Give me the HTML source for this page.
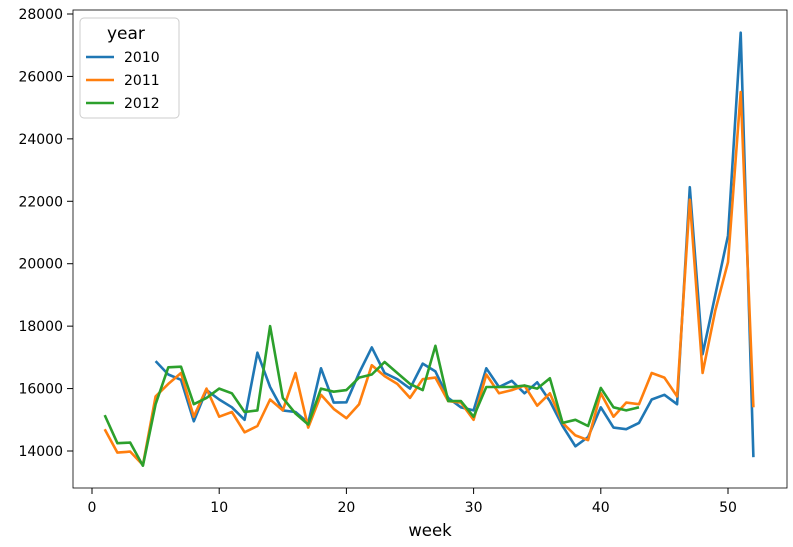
<!DOCTYPE html>
<html><head><meta charset="utf-8"><style>
body{margin:0;background:#fff;}
svg{display:block;font-family:"DejaVu Sans","Liberation Sans",sans-serif;}
</style></head><body>
<svg id="chart" width="793" height="547">
<rect x="73" y="10" width="714" height="478" fill="none" stroke="#000" stroke-width="0.8"/>
<g id="axes"></g><g id="lines"></g>
<text x="430" y="536" font-size="16.5" text-anchor="middle" fill="#000">week</text>
<g>
<rect x="80" y="18" width="99" height="100" rx="4" fill="#fff" fill-opacity="0.8" stroke="#ccc"/>
<text x="107" y="39" font-size="17">year</text>
<g><line x1="86" x2="114" y1="57" y2="57" stroke="#1f77b4" stroke-width="2.6"/><text x="124" y="62" font-size="14">2010</text></g>
<g><line x1="86" x2="114" y1="80" y2="80" stroke="#ff7f0e" stroke-width="2.6"/><text x="124" y="85" font-size="14">2011</text></g>
<g><line x1="86" x2="114" y1="103" y2="103" stroke="#2ca02c" stroke-width="2.6"/><text x="124" y="108" font-size="14">2012</text></g>
</g>
</svg>
<script>
const xTicks=[0,10,20,30,40,50];
const yTicks=[14000,16000,18000,20000,22000,24000,26000,28000];
const weeks2010Start=5;
const sales2010=[16880,16450,16280,14950,15950,15650,15400,15000,17150,16050,15300,15250,14900,16650,15550,15560,16500,17320,16500,16300,16000,16800,16550,15700,15400,15300,16650,16050,16250,15850,16200,15600,14800,14150,14450,15400,14750,14700,14900,15650,15800,15500,22450,17100,19000,20900,27400,13800];
const sales2011=[14700,13950,13980,13550,15750,16150,16500,15100,16000,15100,15250,14600,14800,15650,15300,16500,14750,15800,15350,15050,15500,16750,16400,16150,15700,16300,16350,15600,15550,15000,16450,15850,15950,16100,15450,15850,14900,14500,14350,15850,15100,15550,15500,16500,16350,15750,22050,16500,18500,20050,25500,15400];
const sales2012=[15150,14250,14270,13530,15500,16680,16700,15500,15700,16000,15850,15250,15300,18000,15700,15200,14850,16000,15900,15950,16350,16450,16850,16500,16150,15950,17370,15600,15600,15100,16050,16050,16050,16100,16000,16330,14900,15000,14800,16020,15400,15300,15400];
const NS="http://www.w3.org/2000/svg";
const X=w=>92+w*12.72;
const Y=v=>451-(v-14000)*0.031214;
const axes=document.getElementById('axes');
for(const t of xTicks){
 const l=document.createElementNS(NS,'line');l.setAttribute('x1',X(t));l.setAttribute('x2',X(t));l.setAttribute('y1',488);l.setAttribute('y2',494);l.setAttribute('stroke','#000');
 
 
 axes.appendChild(l);
 const tx=document.createElementNS(NS,'text');tx.setAttribute('x',X(t));tx.setAttribute('y',512);tx.setAttribute('font-size','14');tx.setAttribute('text-anchor','middle');tx.textContent=t;
 
 
 axes.appendChild(tx);
}
for(const t of yTicks){
 const l=document.createElementNS(NS,'line');l.setAttribute('x1',67);l.setAttribute('x2',73);l.setAttribute('y1',Y(t));l.setAttribute('y2',Y(t));l.setAttribute('stroke','#000');
 
 
 axes.appendChild(l);
 const tx=document.createElementNS(NS,'text');tx.setAttribute('x',63);tx.setAttribute('y',Y(t)+5);tx.setAttribute('font-size','14');tx.setAttribute('text-anchor','end');tx.textContent=t;
 
 
 axes.appendChild(tx);
}
const lines=document.getElementById('lines');
function draw(arr,start,color,name){
 const p=document.createElementNS(NS,'polyline');
 p.setAttribute('points',arr.map((v,i)=>X(start+i).toFixed(1)+','+Y(v).toFixed(1)).join(' '));
 p.setAttribute('fill','none');p.setAttribute('stroke',color);p.setAttribute('stroke-width','2.6');p.setAttribute('stroke-linejoin','round');
 
 
 lines.appendChild(p);
}
draw(sales2010,weeks2010Start,'#1f77b4','line-2010');
draw(sales2011,1,'#ff7f0e','line-2011');
draw(sales2012,1,'#2ca02c','line-2012');
</script>
</body></html>
